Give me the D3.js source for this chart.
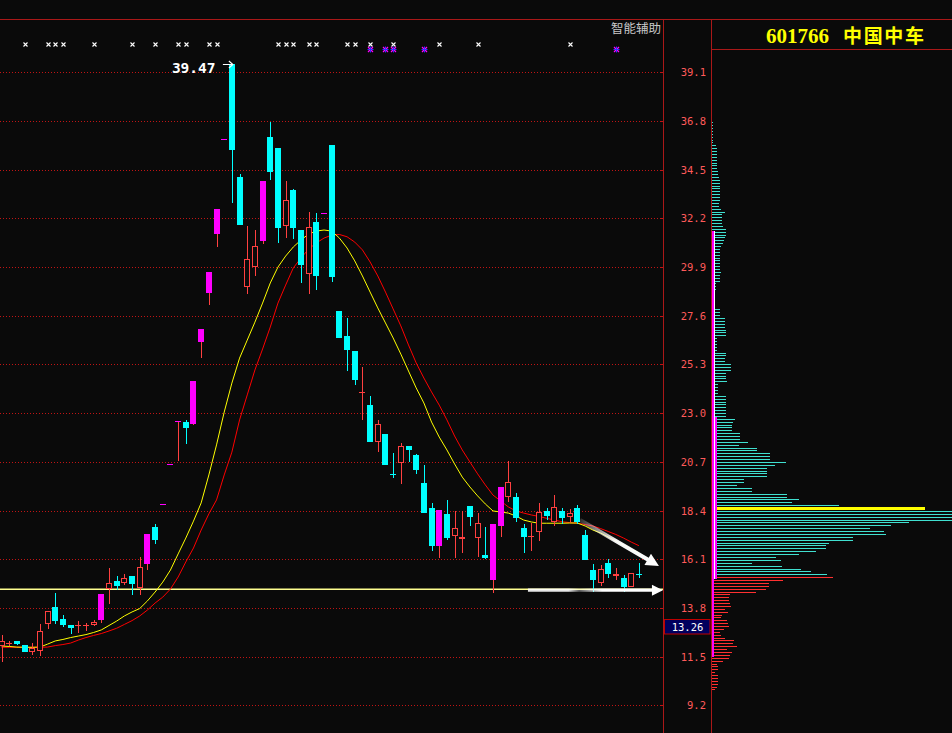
<!DOCTYPE html>
<html><head><meta charset="utf-8">
<script src="https://cdn.jsdelivr.net/npm/d3@7"></script>
<style>html,body{margin:0;padding:0;background:#0a0a0a;overflow:hidden}</style>
</head><body>
<svg id="c" width="952" height="733"></svg>
<script>
// ---------- DATA ----------
const opens  = [12.01,12.12,12.22,12.04,11.70,11.78,13.05,13.84,13.28,13.00,12.97,12.97,12.99,13.23,14.71,15.07,14.96,15.31,14.75,15.89,
                17.62,18.71,20.58,22.64,22.58,22.50,26.36,28.69,31.48,35.93,39.47,34.15,28.97,29.89,31.15,36.04,35.52,31.85,33.54,31.65,
                29.56,32.03,32.44,35.68,27.83,26.64,25.93,23.97,23.38,21.65,22.01,20.13,20.63,21.43,21.02,19.70,18.52,16.74,18.24,17.18,
                17.04,18.61,17.09,16.30,15.12,17.67,19.05,19.04,17.59,17.17,17.37,18.36,17.87,18.38,18.11,18.52,17.26,15.59,14.99,15.92,
                15.29,15.21,14.77,15.42];
const highs  = [12.52,12.23,12.22,12.04,12.13,13.04,13.65,14.50,13.46,13.00,13.18,13.09,13.23,14.44,15.69,15.31,15.40,15.31,16.22,17.30,
                17.76,18.71,20.58,22.64,22.66,24.54,26.99,29.69,32.66,35.93,39.47,34.30,31.84,31.65,33.98,36.75,35.52,33.97,33.59,31.65,
                32.50,32.44,32.44,35.68,27.83,27.49,25.93,25.18,23.81,22.68,22.01,21.12,21.59,21.43,21.07,20.54,18.74,18.41,18.90,18.39,
                18.38,18.61,18.27,17.61,17.75,19.53,20.72,19.21,17.76,17.80,18.74,18.52,19.13,18.52,18.49,18.65,17.49,15.87,15.85,16.11,
                15.68,15.35,15.45,15.92];
const lows   = [11.26,11.99,12.04,11.73,11.59,11.53,12.80,13.05,12.90,12.57,12.61,12.71,12.94,13.10,13.98,14.65,14.87,14.41,14.42,15.60,
                16.82,18.71,20.58,20.74,21.56,22.45,25.62,28.11,30.86,35.93,32.94,31.89,28.64,29.48,30.99,34.01,31.05,31.26,31.23,29.16,
                28.61,28.83,32.44,29.21,26.56,25.00,24.34,22.69,21.64,21.18,20.56,19.95,19.64,20.68,20.11,18.30,16.50,16.14,17.01,16.14,
                16.38,17.67,16.22,16.10,14.52,17.16,18.81,17.87,16.41,16.50,16.97,17.95,17.67,17.76,17.86,17.76,16.06,14.57,14.84,15.23,
                15.12,14.57,14.77,15.23];
const closes = [12.22,12.14,12.11,11.73,11.91,12.71,13.65,13.18,13.00,12.87,12.99,12.99,13.13,14.44,14.96,14.83,15.21,14.93,15.73,17.30,
                17.01,18.71,20.58,22.64,22.31,24.54,26.99,29.69,32.66,35.93,35.42,31.89,30.28,30.89,33.98,34.40,31.75,33.05,31.75,30.00,
                31.78,29.49,32.44,29.45,26.56,25.99,24.58,23.99,21.64,22.49,20.56,20.10,21.43,21.27,20.33,18.30,16.74,18.41,17.12,17.57,
                17.15,18.09,17.80,16.14,17.75,19.53,19.75,18.06,17.16,17.19,18.32,18.13,18.55,18.03,18.27,17.87,16.06,15.12,15.65,15.42,
                15.40,14.79,15.45,15.34];
const maFast = [12.00,11.98,11.95,11.94,11.94,11.95,12.09,12.24,12.31,12.40,12.47,12.54,12.64,12.76,12.97,13.18,13.42,13.61,13.77,14.13,
                14.55,15.02,15.59,16.35,17.10,17.90,18.76,20.08,21.50,23.05,24.42,25.60,26.45,27.30,28.20,29.15,29.90,30.42,30.85,31.18,
                31.46,31.60,31.65,31.60,31.27,30.80,30.19,29.48,28.72,27.97,27.26,26.55,25.79,24.99,24.19,23.48,22.58,21.87,21.26,20.60,
                19.98,19.51,19.09,18.71,18.38,18.33,18.28,18.14,17.95,17.86,17.80,17.80,17.80,17.80,17.81,17.81,17.67,17.48,17.34,17.15,
                16.96,16.77,16.58,16.39];
const maSlow = [11.94,11.94,11.94,11.94,11.94,11.94,11.95,12.02,12.07,12.14,12.28,12.40,12.50,12.59,12.71,12.84,13.02,13.20,13.42,13.70,
                14.03,14.31,14.69,15.26,15.97,16.63,17.48,18.24,18.90,20.08,21.16,22.68,23.86,25.04,26.03,27.07,28.20,29.05,29.86,30.33,
                30.75,31.04,31.27,31.41,31.44,31.33,31.08,30.71,30.14,29.48,28.72,27.92,27.12,26.22,25.37,24.66,24.00,23.38,22.68,21.92,
                21.26,20.69,20.13,19.61,19.13,18.85,18.57,18.38,18.28,18.19,18.12,18.03,17.95,17.87,17.83,17.80,17.74,17.67,17.55,17.41,
                17.27,17.10,16.91,16.74];
const priceTicks = [39.1,36.8,34.5,32.2,29.9,27.6,25.3,23.0,20.7,18.4,16.1,13.8,11.5,9.2];
const whiteMarks  = [3,6,7,8,12,17,20,23,24,27,28,36,37,38,40,41,45,46,48,51,57,62,74];
const purpleMarks = [48,50,51,55,80];
// chip distribution, top level to bottom level
const profileTop = 36.74, profileBottom = 9.95;
const profile = [1,1,1,1,1,1,1,1,4,5,5,5,5,5,5,5,5,6,6,7,8,8,8,8,8,8,8,8,7,7,9,13,10,10,10,10,11,14,14,14,13,12,11,9,
                 8,8,8,8,8,8,8,8,9,8,8,8,4,4,4,
                 0,0,0,0,0,0,
                 8,8,8,13,13,13,13,14,14,14,5,5,5,5,5,14,14,13,13,19,19,19,14,14,14,15,6,6,6,6,14,14,14,14,14,14,14,14,
                 23,21,20,20,20,28,28,28,36,27,45,45,58,58,58,74,63,55,55,55,55,32,32,25,40,40,75,75,
                 87,80,127,213,250,250,250,250,197,179,158,172,174,141,141,117,114,114,104,87,64,69,40,70,89,99,115,
                 121,71,57,57,54,44,18,17,17,18,19,13,16,10,9,15,16,17,12,8,9,13,22,21,25,15,20,18,17,11,5,6,6,3,6,6,6,6,5,3];
const avgCost = 18.50, avgCostLen = 213;
const rangeOuter = [31.60, 11.48];
const rangeInner = [31.60, 15.17];
const rangeCore  = [22.82, 15.17];
const supportPrice = 14.68;
const highPrice = 39.47, highIndex = 30;
const cursorPrice = 13.26;
const arrowDownFrom = [75.33, 17.95], arrowDownTo = [85.61, 15.78];
const arrowFlatFrom = [68.55, 14.64], arrowFlatTo = [86.13, 14.64];
const titleCode = "601766", titleName = "中国中车", panelTitle = "智能辅助";

// ---------- LAYOUT ----------
const W = 952, H = 733;
const mainRight = 663, axisRight = 711, topY = 19;
const RED = "#ff4040", CYAN = "#00ffff", MAG = "#ff00ff";
const svg = d3.select("#c");
svg.append("rect").attr("width", W).attr("height", H).attr("fill", "#0a0a0a");

const x = d3.scaleLinear().domain([0, 83]).range([1.5, 638.9]);
const y = d3.scaleLinear().domain([9.2, 39.1]).range([705.3, 72.3]);

const defs = svg.append("defs");
defs.append("clipPath").attr("id", "clipMain").append("rect")
  .attr("x", 0).attr("y", topY + 1).attr("width", mainRight).attr("height", H - topY);
defs.append("clipPath").attr("id", "clipPanel").append("rect")
  .attr("x", axisRight + 1).attr("y", topY + 31).attr("width", W - axisRight).attr("height", H);

// grid
const grid = svg.append("g");
priceTicks.forEach(t => {
  const yy = Math.round(y(t)) + 0.5;
  grid.append("line").attr("x1", 0).attr("x2", mainRight - 2).attr("y1", yy).attr("y2", yy)
    .attr("stroke", "#c01414").attr("stroke-dasharray", "1,2");
  grid.append("line").attr("x1", mainRight - 2).attr("x2", mainRight).attr("y1", yy).attr("y2", yy)
    .attr("stroke", "#c01414");
});

// axis labels
const axisG = svg.append("g");
priceTicks.forEach(t => {
  axisG.append("text").attr("x", 706).attr("y", Math.round(y(t)) + 4)
    .attr("text-anchor", "end").attr("fill", "#ff5a5a")
    .attr("font-family", "DejaVu Sans Mono").attr("font-size", 10.5)
    .text(t.toFixed(1));
});

// main
const main = svg.append("g").attr("clip-path", "url(#clipMain)");

// support line
main.append("line").attr("x1", 0).attr("x2", mainRight).attr("y1", y(supportPrice)).attr("y2", y(supportPrice))
  .attr("stroke", "#ffff90").attr("stroke-width", 1.4);

// MAs
const lineGen = d3.line().x((d, i) => x(i)).y(d => y(d));
main.append("path").attr("d", lineGen(maSlow)).attr("fill", "none").attr("stroke", "#ff0000").attr("stroke-width", 1);
main.append("path").attr("d", lineGen(maFast)).attr("fill", "none").attr("stroke", "#ffff00").attr("stroke-width", 1);

// candles
const cg = main.append("g").attr("shape-rendering", "crispEdges");
closes.forEach((c, i) => {
  const o = opens[i], h = highs[i], l = lows[i];
  const prev = i > 0 ? closes[i - 1] : null;
  const limit = prev !== null && c >= prev * 1.095;
  const col = limit ? MAG : (c >= o ? RED : CYAN);
  const wickCol = limit ? RED : col;
  const left = Math.round(x(i) - 3);
  const cx = left + 3.5;
  const top = Math.round(y(Math.max(o, c))), bot = Math.round(y(Math.min(o, c)));
  const yh = Math.round(y(h)), yl = Math.round(y(l));
  if (bot - top < 2) {
    if (yl > yh) cg.append("line").attr("x1", cx).attr("x2", cx).attr("y1", yh).attr("y2", yl).attr("stroke", wickCol);
    cg.append("rect").attr("x", left).attr("y", top).attr("width", 6).attr("height", Math.max(1, bot - top)).attr("fill", col);
  } else if (!limit && c > o) {
    if (top > yh) cg.append("line").attr("x1", cx).attr("x2", cx).attr("y1", yh).attr("y2", top).attr("stroke", col);
    if (yl > bot) cg.append("line").attr("x1", cx).attr("x2", cx).attr("y1", bot).attr("y2", yl).attr("stroke", col);
    cg.append("rect").attr("x", left + 0.5).attr("y", top + 0.5).attr("width", 5).attr("height", bot - top - 1)
      .attr("fill", "#0a0a0a").attr("stroke", col);
  } else {
    if (yl > yh) cg.append("line").attr("x1", cx).attr("x2", cx).attr("y1", yh).attr("y2", yl).attr("stroke", wickCol);
    cg.append("rect").attr("x", left).attr("y", top).attr("width", 6).attr("height", bot - top).attr("fill", col);
  }
});

// markers
const mk = svg.append("g");
whiteMarks.forEach(i => {
  const cx = Math.round(x(i)) + 0.5, cy = 44.5;
  mk.append("path").attr("d", `M${cx-2},${cy-2}L${cx+2},${cy+2}M${cx-2},${cy+2}L${cx+2},${cy-2}`)
    .attr("stroke", "#ffffff").attr("stroke-width", 1.1).attr("fill", "none");
});
purpleMarks.forEach(i => {
  const cx = Math.round(x(i)) + 0.5, cy = 49.5;
  mk.append("path").attr("d", `M${cx-2.5},${cy-2.5}L${cx+2.5},${cy+2.5}M${cx-2.5},${cy+2.5}L${cx+2.5},${cy-2.5}`)
    .attr("stroke", MAG).attr("stroke-width", 1.2);
  mk.append("path").attr("d", `M${cx-3},${cy}L${cx+3},${cy}M${cx},${cy-3}L${cx},${cy+3}`)
    .attr("stroke", "#3030ff").attr("stroke-width", 1.1);
});

// high label
const hx = x(highIndex);
svg.append("text").attr("x", hx - 60).attr("y", y(highPrice) + 8.5)
  .attr("fill", "#ffffff").attr("font-family", "DejaVu Sans Mono").attr("font-weight", "bold").attr("font-size", 14.5)
  .text(highPrice.toFixed(2));
{
  const ay = Math.round(y(highPrice)) + 0.5;
  svg.append("path").attr("d", `M${hx-9},${ay}L${hx+1},${ay}M${hx-3},${ay-3.5}L${hx+1},${ay}L${hx-3},${ay+3.5}`)
    .attr("stroke", "#ffffff").attr("stroke-width", 1.1).attr("fill", "none");
}

// arrows
function arrowPath(s, e, w, L, Hh) {
  const dx = e[0] - s[0], dy = e[1] - s[1], len = Math.hypot(dx, dy);
  const ux = dx / len, uy = dy / len, nx = -uy, ny = ux;
  const bx = e[0] - ux * L, by = e[1] - uy * L;
  const pts = [[s[0] + nx * w, s[1] + ny * w], [bx + nx * w, by + ny * w], [bx + nx * Hh, by + ny * Hh], e,
               [bx - nx * Hh, by - ny * Hh], [bx - nx * w, by - ny * w], [s[0] - nx * w, s[1] - ny * w]];
  return "M" + pts.map(p => p.join(",")).join("L") + "Z";
}
function gradient(id, s, e, stops) {
  const gr = defs.append("linearGradient").attr("id", id).attr("gradientUnits", "userSpaceOnUse")
    .attr("x1", s[0]).attr("y1", s[1]).attr("x2", e[0]).attr("y2", e[1]);
  stops.forEach(st => gr.append("stop").attr("offset", st[0]).attr("stop-color", "#ffffff").attr("stop-opacity", st[1]));
}
{
  const s = [x(arrowDownFrom[0]), y(arrowDownFrom[1])], e = [x(arrowDownTo[0]), y(arrowDownTo[1])];
  gradient("gDown", s, e, [[0, 0.15], [0.45, 0.95], [1, 1]]);
  svg.append("path").attr("d", arrowPath(s, e, 2, 13, 6.5)).attr("fill", "url(#gDown)");
  const s2 = [x(arrowFlatFrom[0]), y(arrowFlatFrom[1])], e2 = [x(arrowFlatTo[0]), y(arrowFlatTo[1])];
  gradient("gFlat", s2, e2, [[0, 0.9], [0.3, 0.9], [0.38, 0.35], [0.55, 1], [1, 1]]);
  svg.append("path").attr("d", arrowPath(s2, e2, 1.6, 11, 5.5)).attr("fill", "url(#gFlat)");
}

// panel title
svg.append("text").attr("x", 661).attr("y", 33).attr("text-anchor", "end")
  .attr("fill", "#c8c8c8").attr("font-family", "Noto Sans CJK SC").attr("font-size", 12.5).text(panelTitle);

// chip distribution
const pg = svg.append("g").attr("clip-path", "url(#clipPanel)").attr("shape-rendering", "crispEdges");
const lenScale = d3.scaleLinear().domain([0, 240]).range([0, 240]);
const lastClose = closes[closes.length - 1];
const pStep = (profileTop - profileBottom) / (profile.length - 1);
profile.forEach((v, k) => {
  if (v <= 0) return;
  const pr = profileTop - k * pStep;
  pg.append("rect").attr("x", 712).attr("y", Math.round(y(pr))).attr("width", lenScale(v)).attr("height", 1)
    .attr("fill", pr > lastClose ? "#40e0d0" : "#ff3030");
});
pg.append("rect").attr("x", 712).attr("y", Math.round(y(avgCost)) - 1).attr("width", lenScale(avgCostLen)).attr("height", 3)
  .attr("fill", "#ffff00");
pg.append("rect").attr("x", 712).attr("y", y(rangeOuter[0])).attr("width", 2)
  .attr("height", y(rangeOuter[1]) - y(rangeOuter[0])).attr("fill", MAG);
pg.append("rect").attr("x", 714).attr("y", y(rangeInner[0])).attr("width", 1)
  .attr("height", y(rangeInner[1]) - y(rangeInner[0])).attr("fill", "#ffffff");
pg.append("rect").attr("x", 715).attr("y", y(rangeCore[0])).attr("width", 1.5)
  .attr("height", y(rangeCore[1]) - y(rangeCore[0])).attr("fill", MAG);

// frame lines
const fr = svg.append("g").attr("stroke", "#aa1818").attr("shape-rendering", "crispEdges");
fr.append("line").attr("x1", 0).attr("x2", W).attr("y1", topY + 0.5).attr("y2", topY + 0.5);
fr.append("line").attr("x1", mainRight + 0.5).attr("x2", mainRight + 0.5).attr("y1", topY).attr("y2", H);
fr.append("line").attr("x1", axisRight + 0.5).attr("x2", axisRight + 0.5).attr("y1", topY).attr("y2", H);
fr.append("line").attr("x1", axisRight).attr("x2", W).attr("y1", 49.5).attr("y2", 49.5);

// cursor price box
{
  const by = Math.round(y(cursorPrice));
  svg.append("rect").attr("x", 664.5).attr("y", by + 0.5).attr("width", 45.5).attr("height", 14.5)
    .attr("fill", "#00005e").attr("stroke", "#c00000");
  svg.append("text").attr("x", 687.5).attr("y", by + 11.5).attr("text-anchor", "middle")
    .attr("fill", "#ffffff").attr("font-family", "DejaVu Sans Mono").attr("font-size", 10.5).text(cursorPrice.toFixed(2));
}

// title
svg.append("text").attr("x", 766).attr("y", 43).attr("fill", "#ffff00")
  .attr("font-family", "Liberation Serif").attr("font-weight", "bold").attr("font-size", 21).text(titleCode);
svg.append("text").attr("x", 843).attr("y", 43).attr("fill", "#ffff00").attr("textLength", 81)
  .attr("font-family", "Noto Sans CJK SC").attr("font-weight", "bold").attr("font-size", 19).text(titleName);
</script>
</body></html>
